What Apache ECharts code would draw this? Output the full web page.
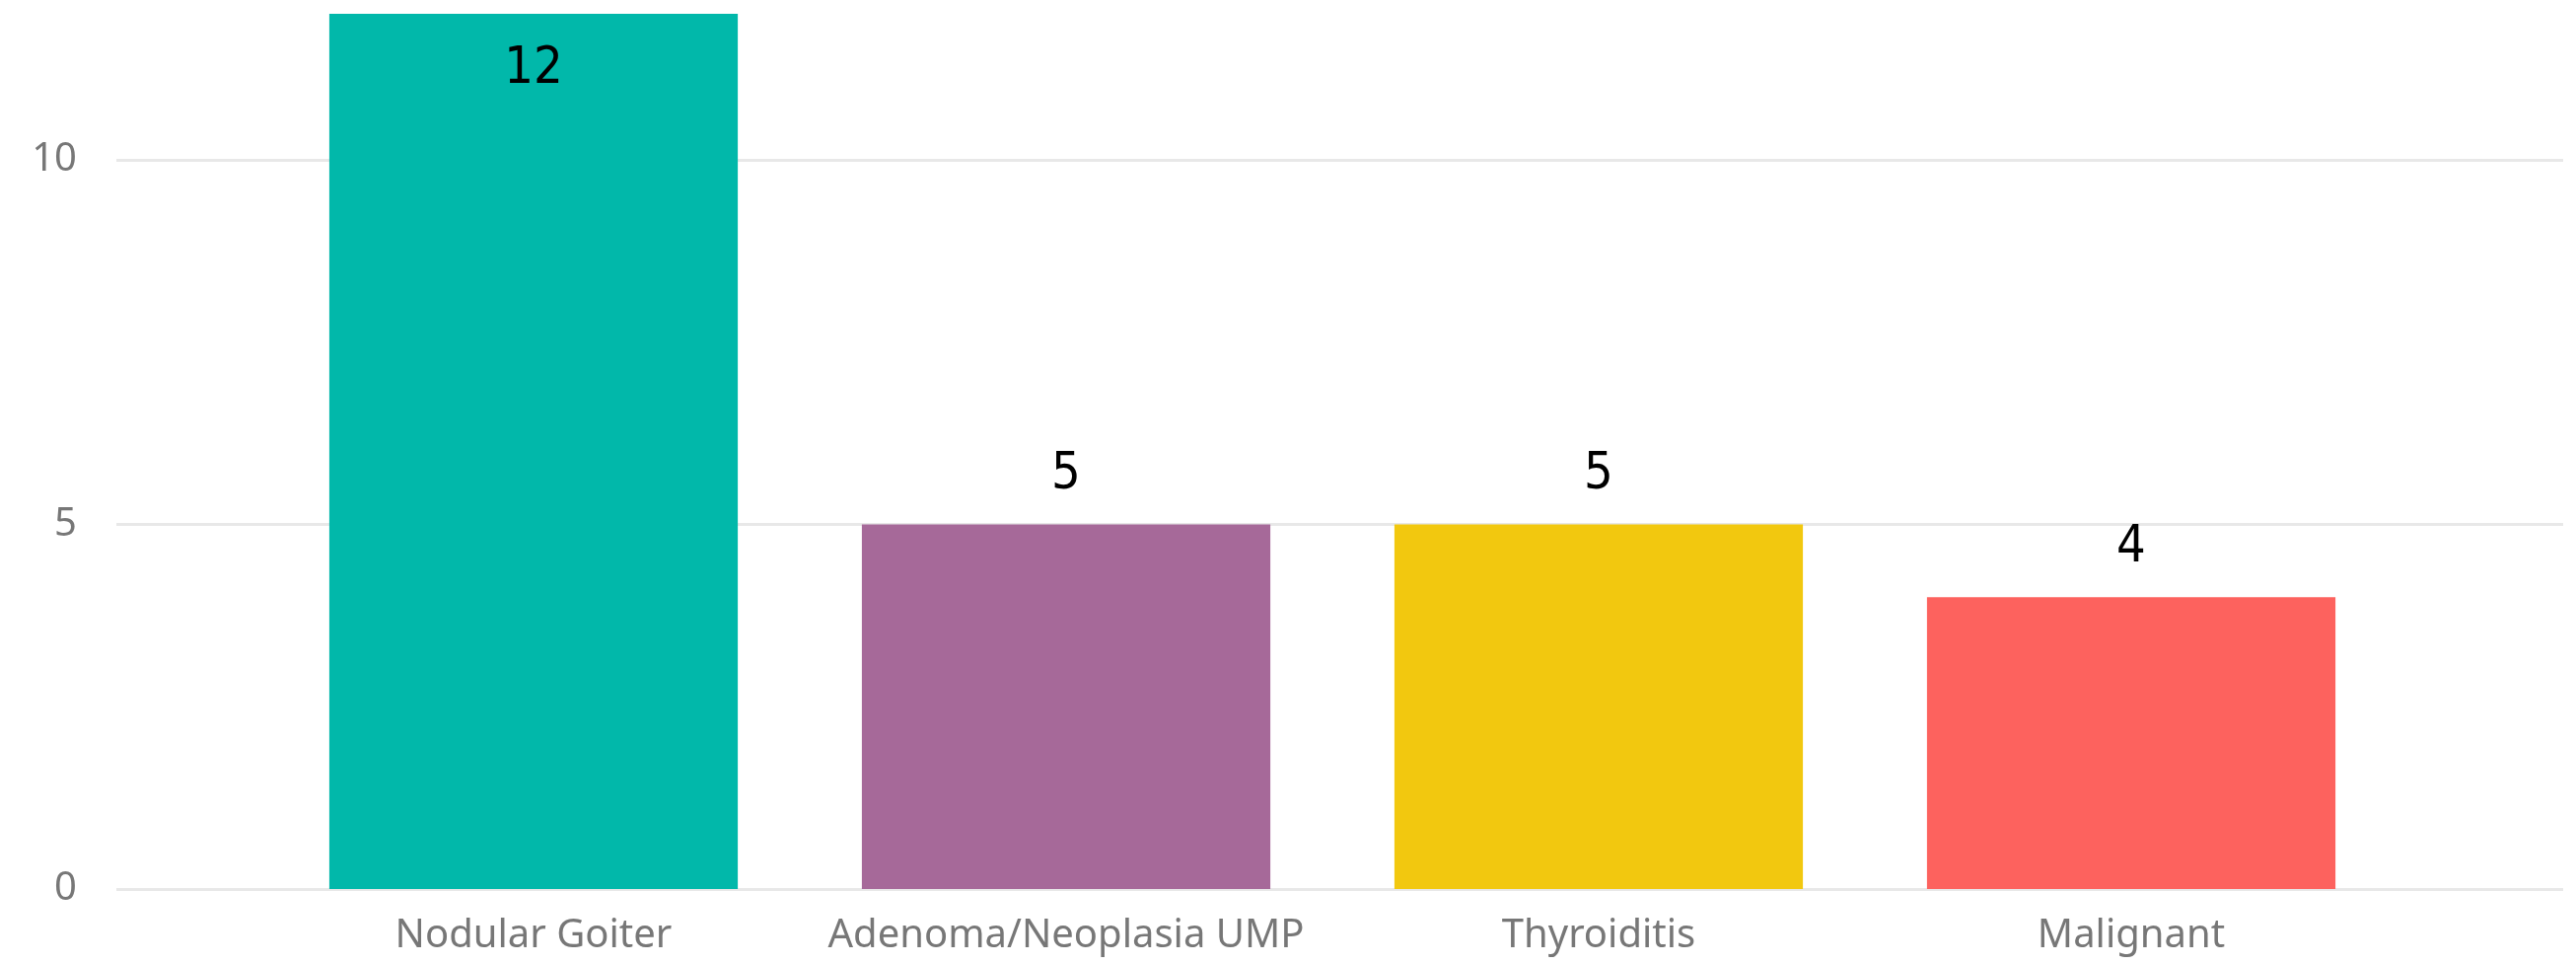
<!DOCTYPE html>
<html lang="en">
<head>
  <meta charset="UTF-8">
  <title>Diagnosis counts</title>
  <script src="https://cdn.jsdelivr.net/npm/echarts@6/dist/echarts.min.js"></script>
  <style>
    html, body { margin: 0; padding: 0; background: #fff; }
    #chart { width: 2612px; height: 977px; }
  </style>
</head>
<body>
  <div id="chart"></div>
  <script>
    // data
    const categories = ['Nodular Goiter', 'Adenoma/Neoplasia UMP', 'Thyroiditis', 'Malignant'];
    const counts = [12, 5, 5, 4];
    const barColors = ['#01B8AA', '#A66999', '#F2C80F', '#FD625E'];
    const yTicks = [0, 5, 10];

    let chart = echarts.init(document.getElementById('chart'));

    // the tallest bar does not leave room above, so its label goes inside
    let barData = counts.map(function (v, i) {
      let item = { value: v, itemStyle: { color: barColors[i] } };
      if (v === Math.max.apply(null, counts)) {
        item.label = { position: 'insideTop', distance: 30 };
      }
      return item;
    });

    let option = {
      animation: false,
      grid: [
        // background grid: gridlines run wider than the bars
        { left: 118, right: 13, top: 14, bottom: 76 },
        { left: 271, right: 181, top: 14, bottom: 76 }
      ],
      xAxis: [
        { gridIndex: 0, type: 'value', show: false, min: 0, max: 1 },
        {
          gridIndex: 1,
          type: 'category',
          data: categories,
          axisLine: { show: false },
          axisTick: { show: false },
          axisLabel: {
            interval: 0,
            color: '#777777',
            fontFamily: 'Noto Sans',
            fontSize: 40,
            lineHeight: 40,
            margin: 28
          }
        }
      ],
      yAxis: [
        {
          gridIndex: 0,
          type: 'value',
          min: 0,
          max: 12,
          interval: 5,
          axisLine: { show: false },
          axisTick: { show: false },
          axisLabel: {
            showMaxLabel: false,
            color: '#777777',
            fontFamily: 'Noto Sans',
            fontSize: 40,
            margin: 40,
            formatter: function (v) { return yTicks.indexOf(v) >= 0 ? v : ''; }
          },
          splitLine: {
            showMaxLine: false,
            lineStyle: { color: '#e8e8e8', width: 3 }
          }
        },
        { gridIndex: 1, type: 'value', min: 0, max: 12, show: false }
      ],
      series: [{
        type: 'bar',
        xAxisIndex: 1,
        yAxisIndex: 1,
        barCategoryGap: '23.3%',
        data: barData,
        label: {
          show: true,
          position: 'top',
          distance: 24,
          color: '#000000',
          fontFamily: 'DejaVu Sans Condensed',
          fontSize: 52,
          lineHeight: 52
        }
      }]
    };
    chart.setOption(option);
  </script>
</body>
</html>
